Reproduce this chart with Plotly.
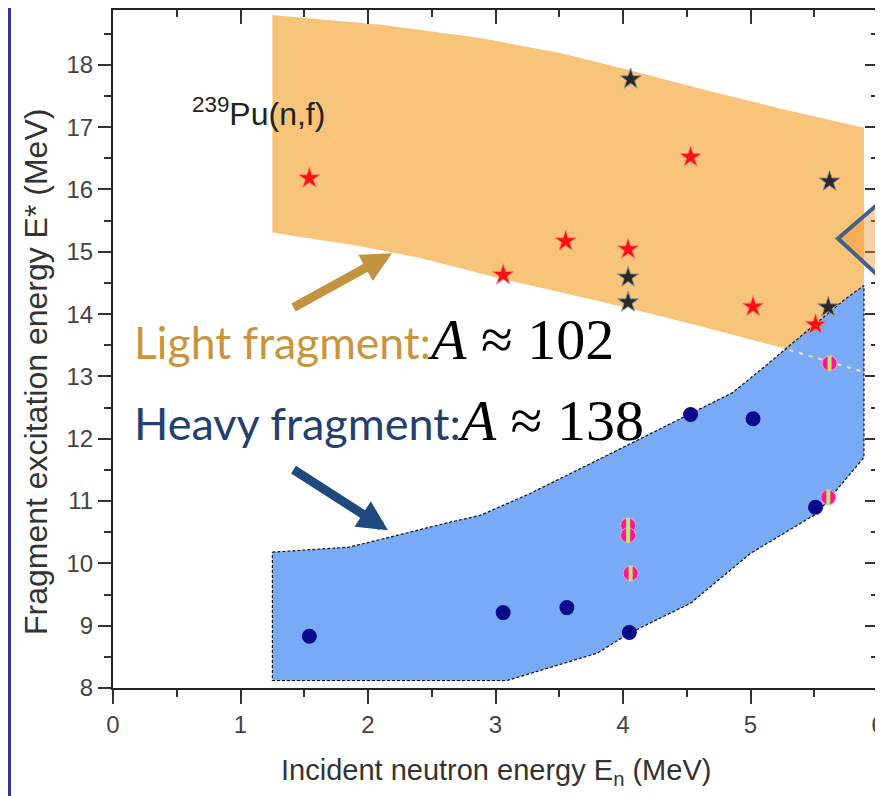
import plotly.graph_objects as go

# ---------------- data ----------------
# light-fragment band (orange)
orange_top_x = [1.25, 2.12, 2.88, 3.51, 4.06, 4.60, 5.23, 5.89]
orange_top_y = [18.80, 18.64, 18.43, 18.19, 17.91, 17.62, 17.30, 16.99]
orange_bot_x = [1.25, 1.94, 2.41, 3.06, 3.51, 4.03, 4.60, 5.23, 5.89]
orange_bot_y = [15.31, 15.09, 14.90, 14.56, 14.35, 14.10, 13.81, 13.47, 13.07]

# heavy-fragment band (blue)
blue_up_x = [1.25, 1.85, 2.17, 2.64, 2.88, 3.27, 3.95, 4.53, 4.86, 5.10, 5.73, 5.89]
blue_up_y = [10.18, 10.26, 10.42, 10.66, 10.77, 11.12, 11.81, 12.41, 12.74, 13.14, 14.22, 14.46]
blue_lo_x = [1.25, 3.09, 3.43, 3.80, 4.05, 4.53, 5.00, 5.52, 5.89]
blue_lo_y = [8.12, 8.12, 8.33, 8.56, 8.88, 9.36, 10.16, 10.80, 11.70]

# light fragment points
red_star_x = [1.54, 3.06, 3.55, 4.04, 4.53, 5.02, 5.51]
red_star_y = [16.18, 14.63, 15.17, 15.04, 16.52, 14.12, 13.83]
black_star_x = [4.06, 4.04, 4.04, 5.62, 5.61]
black_star_y = [17.77, 14.59, 14.19, 16.13, 14.11]

# heavy fragment points
navy_x = [1.54, 3.06, 3.56, 4.05, 4.53, 5.02, 5.51]
navy_y = [8.83, 9.21, 9.29, 8.89, 12.39, 12.32, 10.90]
pink_x = [4.04, 4.04, 4.06, 5.61, 5.62]
pink_y = [10.61, 10.45, 9.84, 11.06, 13.21]

x_ticks = [0, 1, 2, 3, 4, 5, 6]
y_ticks = [8, 9, 10, 11, 12, 13, 14, 15, 16, 17, 18]

# ---------------- figure ----------------
fig = go.Figure()

ox = orange_top_x + orange_bot_x[::-1]
oy = orange_top_y + orange_bot_y[::-1]
fig.add_trace(go.Scatter(x=ox, y=oy, fill="toself", fillcolor="#f8c47a",
                         mode="lines", line=dict(width=0), hoverinfo="skip", showlegend=False))

bx = blue_up_x + blue_lo_x[::-1] + [blue_up_x[0]]
by = blue_up_y + blue_lo_y[::-1] + [blue_up_y[0]]
fig.add_trace(go.Scatter(x=bx, y=by, fill="toself", fillcolor="#78aaf5",
                         mode="lines", line=dict(width=1.2, color="#111", dash="3px,2px"),
                         hoverinfo="skip", showlegend=False))

# lower boundary of orange band continuing beneath the blue band
dx = [v for v in orange_bot_x if v >= 5.2]
dy = [orange_bot_y[i] for i, v in enumerate(orange_bot_x) if v >= 5.2]
fig.add_trace(go.Scatter(x=dx, y=dy, mode="lines",
                         line=dict(width=2, color="#f3e2bd", dash="4px,6px"),
                         hoverinfo="skip", showlegend=False))

fig.add_trace(go.Scatter(x=red_star_x, y=red_star_y, mode="markers",
                         marker=dict(symbol="star", size=16, color="#ff1010",
                                     line=dict(width=0.8, color="#ff8080")),
                         showlegend=False))
fig.add_trace(go.Scatter(x=black_star_x, y=black_star_y, mode="markers",
                         marker=dict(symbol="star", size=16, color="#2a2a2a",
                                     line=dict(width=1, color="#9a9a9a")),
                         showlegend=False))
fig.add_trace(go.Scatter(x=navy_x, y=navy_y, mode="markers",
                         marker=dict(symbol="circle", size=15, color="#0a0a8c",
                                     line=dict(width=0)),
                         showlegend=False))
fig.add_trace(go.Scatter(x=pink_x, y=pink_y, mode="markers",
                         marker=dict(symbol="circle", size=15, color="#ff1a8c",
                                     line=dict(width=1, color="#ff9acb")),
                         showlegend=False))
fig.add_trace(go.Scatter(x=pink_x, y=pink_y, mode="markers",
                         marker=dict(symbol="line-ns-open", size=11,
                                     line=dict(width=4, color="white")),
                         showlegend=False))

# dummy trace to carry the inside-tick mirror axes
fig.add_trace(go.Scatter(x=[None], y=[None], xaxis="x2", yaxis="y2", showlegend=False))

tickfont = dict(family="Liberation Sans, Arial", size=24, color="#444")
common = dict(showgrid=False, zeroline=False)

# page body adds an 8px offset; figure sized so plot area lands where the reference has it
fig.update_layout(
    width=875, height=788,
    margin=dict(l=105, r=5, t=2, b=108, autoexpand=False),
    paper_bgcolor="white", plot_bgcolor="white",
    xaxis=dict(range=[0, 6], tickvals=x_ticks, ticktext=[str(v) for v in x_ticks],
               showline=True, linecolor="#222", linewidth=2, mirror=True,
               ticks="outside", ticklen=14, tickwidth=2, tickcolor="#333",
               ticklabeloverflow="allow",
               minor=dict(ticks="outside", ticklen=7, tickwidth=2, tickcolor="#333", dtick=0.5, tick0=0),
               tickfont=tickfont, **common),
    yaxis=dict(range=[8, 18.88], tickvals=y_ticks, ticktext=[str(v) for v in y_ticks],
               showline=True, linecolor="#222", linewidth=2, mirror=True,
               ticks="outside", ticklen=13, tickwidth=2, tickcolor="#333",
               minor=dict(ticks="outside", ticklen=7, tickwidth=2, tickcolor="#333", dtick=0.5, tick0=8),
               tickfont=tickfont, **common),
    xaxis2=dict(range=[0, 6], overlaying="x", side="top", anchor="y",
                tickvals=x_ticks, showticklabels=False, showline=False,
                ticks="inside", ticklen=14, tickwidth=2, tickcolor="#333",
                minor=dict(ticks="inside", ticklen=7, tickwidth=2, tickcolor="#333", dtick=0.5, tick0=0),
                **common),
    yaxis2=dict(range=[8, 18.88], overlaying="y", side="right", anchor="x",
                tickvals=y_ticks, showticklabels=False, showline=False,
                ticks="inside", ticklen=13, tickwidth=2, tickcolor="#333",
                minor=dict(ticks="inside", ticklen=7, tickwidth=2, tickcolor="#333", dtick=0.5, tick0=8),
                **common),
)

ann = []
# axis titles
ann.append(dict(text="Incident neutron energy E<sub>n</sub> (MeV)", xref="paper", yref="paper",
                x=0.5, y=-0.124, xanchor="center", yanchor="middle", showarrow=False,
                font=dict(family="Liberation Sans, Arial", size=29, color="#333")))
ann.append(dict(text="Fragment excitation energy E* (MeV)", xref="paper", yref="paper",
                x=-0.1007, y=0.466, xanchor="center", yanchor="middle", textangle=-90, showarrow=False,
                font=dict(family="Liberation Sans, Arial", size=32, color="#333")))
# reaction label
ann.append(dict(text="<sup>239</sup>Pu(n,f)", x=0.6, y=17.24, xanchor="left", yanchor="middle",
                showarrow=False, font=dict(family="Liberation Sans, Arial", size=32, color="#222")))
# fragment labels
ann.append(dict(text="<span style='font-family:Lato;color:#c8953c'>Light fragment:</span>"
                     "<span style='font-family:Liberation Serif;font-size:58px;color:black'><i>A</i> ≈ 102</span>",
                x=0.149, y=13.6, xanchor="left", yanchor="middle", showarrow=False,
                font=dict(family="Lato", size=44.5, color="#c8953c")))
ann.append(dict(text="<span style='font-family:Lato;color:#243f6e'>Heavy fragment:</span>"
                     "<span style='font-family:Liberation Serif;font-size:58px;color:black'><i>A</i> ≈ 138</span>",
                x=0.149, y=12.29, xanchor="left", yanchor="middle", showarrow=False,
                font=dict(family="Lato", size=45, color="#243f6e")))
# arrows
ann.append(dict(x=2.188, y=14.975, ax=1.404, ay=14.093, xref="x", yref="y", axref="x", ayref="y",
                text="", showarrow=True, arrowhead=2, arrowsize=0.67, arrowwidth=9, arrowcolor="#c3943f"))
ann.append(dict(x=2.157, y=10.53, ax=1.404, ay=11.52, xref="x", yref="y", axref="x", ayref="y",
                text="", showarrow=True, arrowhead=2, arrowsize=0.67, arrowwidth=9, arrowcolor="#1f4a80"))
fig.update_layout(annotations=ann)

# slide decorations: left border line and callout diamond at right edge
fig.update_layout(shapes=[
    dict(type="line", xref="paper", yref="paper", x0=-0.1353, x1=-0.1353, y0=-0.2, y1=1.05,
         line=dict(color="#3333a0", width=3)),
    dict(type="path", xref="paper", yref="paper",
         path="M 1.012,0.7255 L 0.9477,0.663 L 1.012,0.596 Z",
         fillcolor="rgba(242,144,42,0.43)", line=dict(color="#41618c", width=4), layer="above"),
])

fig.write_html("out.html")
